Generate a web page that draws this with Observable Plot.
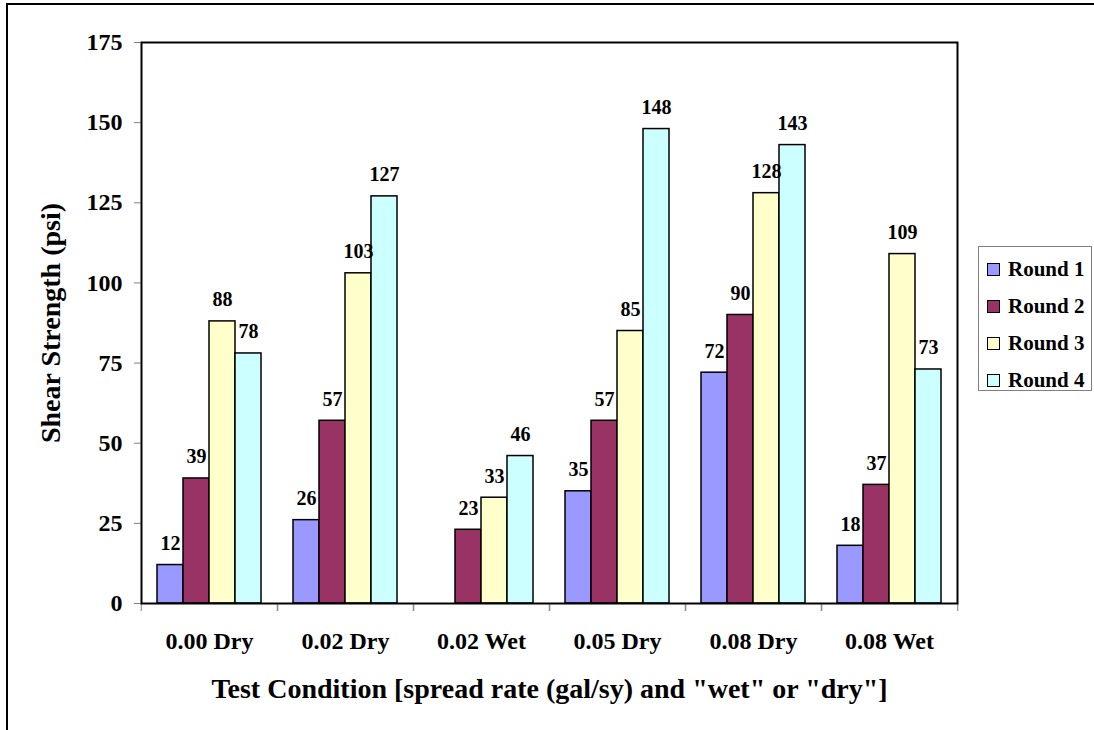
<!DOCTYPE html>
<html>
<head>
<meta charset="utf-8">
<script src="https://cdn.jsdelivr.net/npm/d3@7"></script>
<script src="https://cdn.jsdelivr.net/npm/@observablehq/plot@0.6"></script>
<style>
  html, body { margin: 0; padding: 0; background: #fff; }
  #wrap { position: relative; width: 1094px; height: 730px; overflow: hidden; }
  #border { position: absolute; left: 6px; top: 3px; width: 2000px; height: 2000px; border: 2px solid #000; }
  #chart { position: absolute; left: 0; top: 0; }
  #legend {
    position: absolute; left: 978px; top: 246px; width: 114px; height: 145px;
    border: 1px solid #808080; background: #fff; box-sizing: border-box;
    font: bold 21px "Liberation Serif", "Times New Roman", serif; color: #000;
  }
  #legend .item { position: absolute; left: 8px; height: 22px; display: flex; align-items: center; transform: translateY(-50%); white-space: nowrap; }
  #legend .sw { width: 11px; height: 11px; border: 1px solid #000; margin-right: 8px; }
</style>
</head>
<body>
<div id="wrap">
  <div id="border"></div>
  <div id="chart"></div>
  <div id="legend"></div>
</div>
<script>
// Test conditions along the x axis
const categories = ["0.00 Dry", "0.02 Dry", "0.02 Wet", "0.05 Dry", "0.08 Dry", "0.08 Wet"];
// Test rounds (series)
const seriesNames = ["Round 1", "Round 2", "Round 3", "Round 4"];
// Shear strength (psi) per condition for each round; null = not tested
const round1 = [12, 26, null, 35, 72, 18];
const round2 = [39, 57, 23, 57, 90, 37];
const round3 = [88, 103, 33, 85, 128, 109];
const round4 = [78, 127, 46, 148, 143, 73];
const seriesColors = ["#9999FF", "#993366", "#FFFFCC", "#CCFFFF"];
const yTicks = [0, 25, 50, 75, 100, 125, 150, 175];
const yTitle = "Shear Strength (psi)";
const xTitle = 'Test Condition [spread rate (gal/sy) and "wet" or "dry"]';

const rows = [];
[round1, round2, round3, round4].forEach((vals, s) => {
  vals.forEach((v, i) => {
    if (v != null) rows.push({condition: categories[i], round: seriesNames[s], value: v});
  });
});

const W = 1094, H = 730;
const mL = 139, mR = 136, mT = 42, mB = 127;
const step = (W - mL - mR) / categories.length;
const serif = '"Liberation Serif", "Times New Roman", serif';

const chart = Plot.plot({
  width: W,
  height: H,
  marginLeft: mL,
  marginRight: mR,
  marginTop: mT,
  marginBottom: mB,
  style: {fontFamily: serif, fontWeight: "bold", fontSize: "23px", color: "#000", background: "transparent", overflow: "visible"},
  fx: {domain: categories, padding: 0},
  x: {domain: seriesNames, paddingInner: 0, paddingOuter: 0.55, axis: null},
  y: {domain: [0, 175]},
  color: {domain: seriesNames, range: seriesColors},
  marks: [
    Plot.barY(rows, {fx: "condition", x: "round", y: "value", fill: "round", stroke: "#000", strokeWidth: 1.5}),
    Plot.text(rows, {fx: "condition", x: "round", y: "value", text: d => String(d.value), dy: -15, lineAnchor: "bottom", fontSize: 20}),
    Plot.axisY({ticks: yTicks, tickSize: 7, tickPadding: 12, stroke: "#808080", tickFormat: d => String(d), label: null, fontSize: 24}),
    Plot.axisFx({anchor: "bottom", tickSize: 0, tickPadding: 28, label: null, fontSize: 24}),
    Plot.axisFx({anchor: "bottom", tickSize: 8, text: null, dx: -step / 2, stroke: "#808080", label: null}),
    Plot.axisFx({anchor: "bottom", tickSize: 8, text: null, dx: step / 2, stroke: "#808080", label: null}),
    Plot.frame({facet: "super", stroke: "#000", strokeWidth: 2}),
    Plot.text([yTitle], {facet: "super", frameAnchor: "left", textAnchor: "middle", rotate: -90, dx: -82, lineAnchor: "bottom", fontSize: 28}),
    Plot.text([xTitle], {facet: "super", frameAnchor: "bottom", textAnchor: "middle", dy: 94, lineAnchor: "bottom", fontSize: 28})
  ]
});
document.getElementById("chart").appendChild(chart);

// Legend box
const legend = document.getElementById("legend");
seriesNames.forEach((name, i) => {
  const item = document.createElement("div");
  item.className = "item";
  item.style.top = (22 + i * 37.3) + "px";
  const sw = document.createElement("div");
  sw.className = "sw";
  sw.style.background = seriesColors[i];
  const label = document.createElement("span");
  label.textContent = name;
  item.appendChild(sw);
  item.appendChild(label);
  legend.appendChild(item);
});
</script>
</body>
</html>
